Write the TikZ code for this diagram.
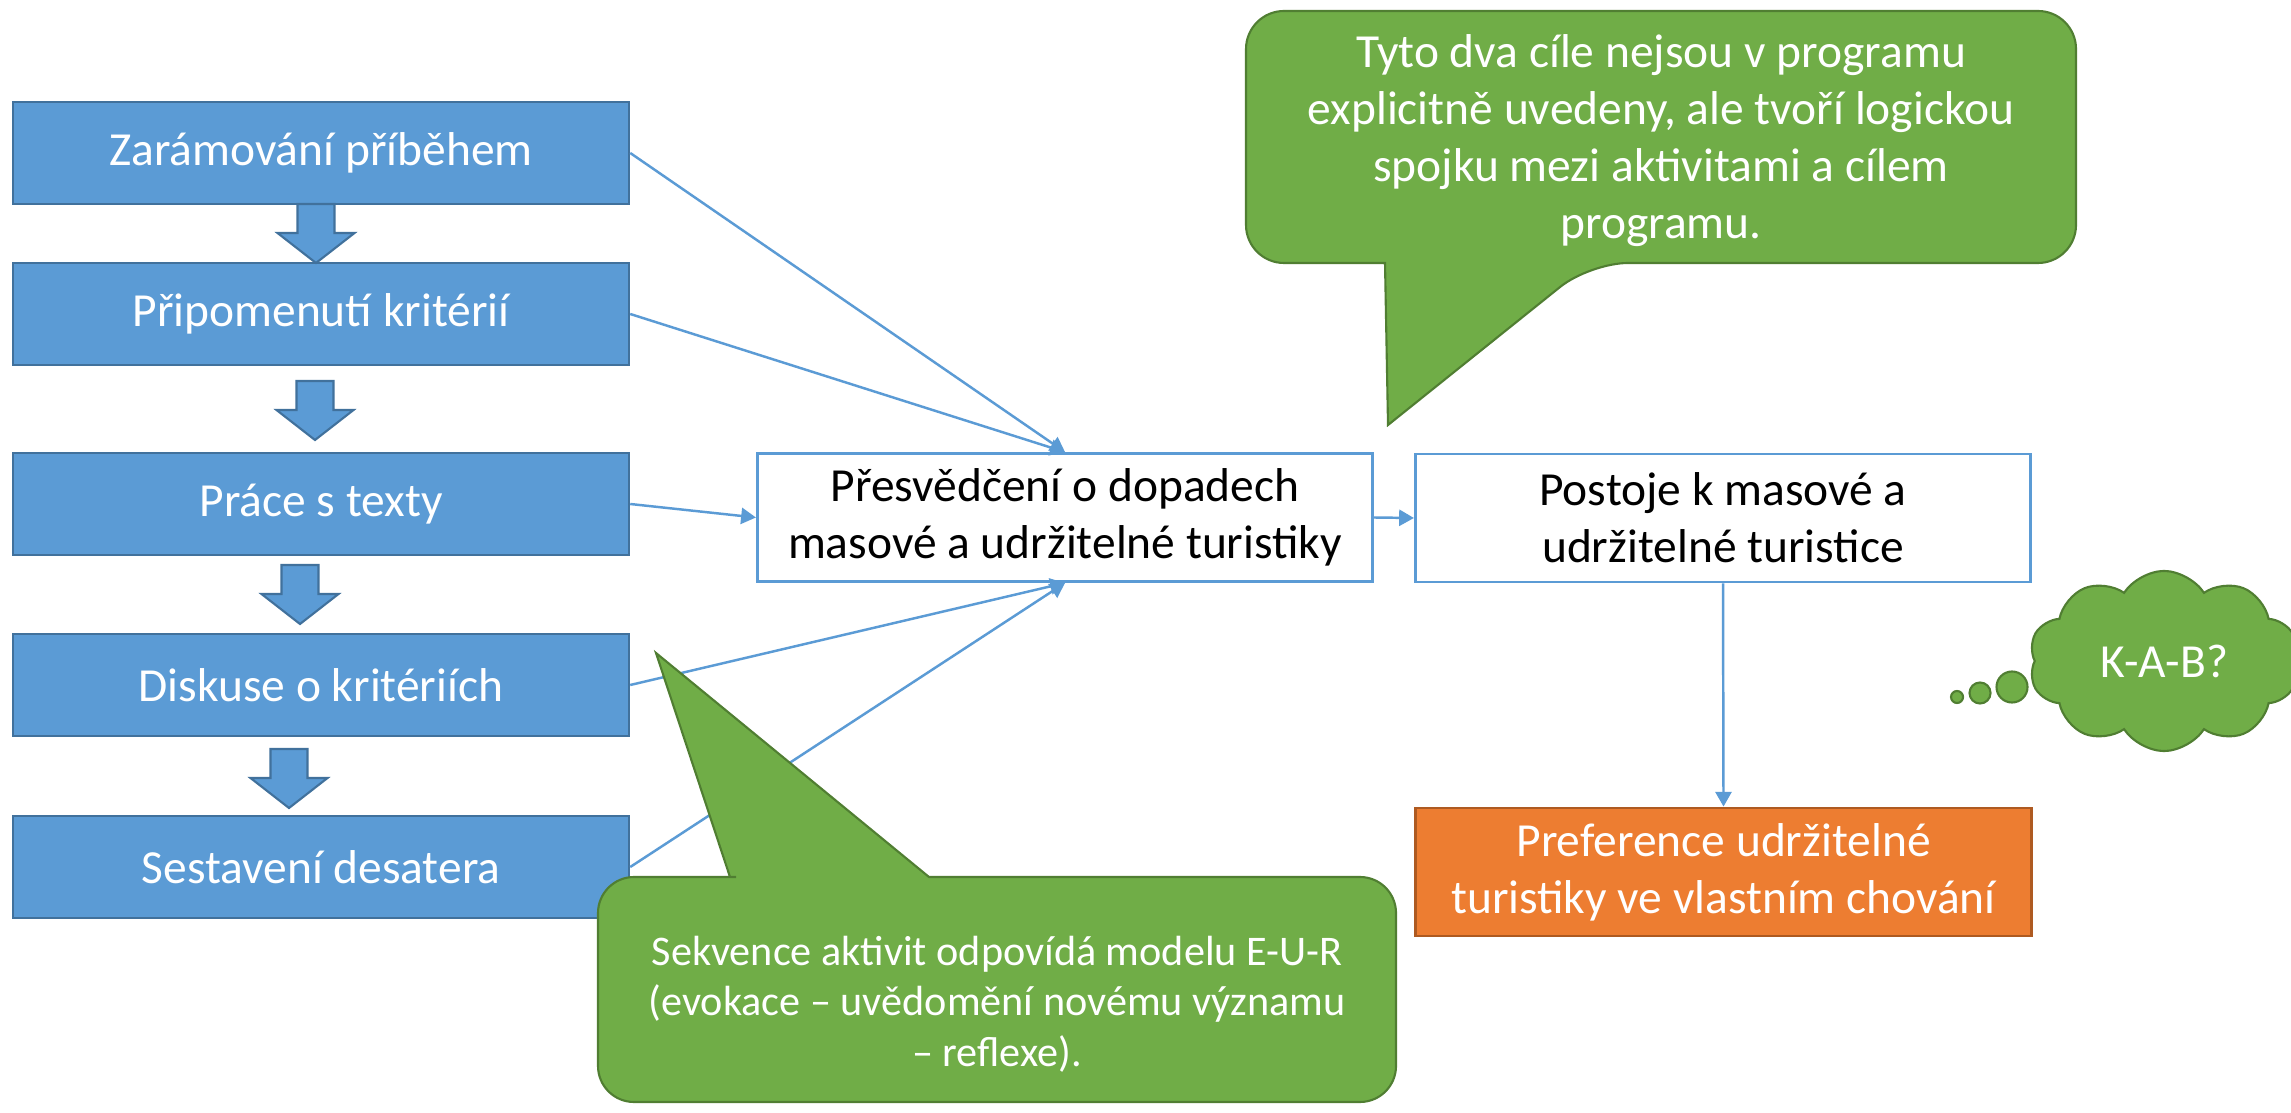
\documentclass[tikz,border=0pt]{standalone}
\usepackage{fontspec}
\setmainfont{Carlito}
\usetikzlibrary{arrows.meta,shapes.symbols}
\definecolor{boxblue}{HTML}{5B9BD5}
\definecolor{boxedge}{HTML}{41719C}
\definecolor{notegreen}{HTML}{70AD47}
\definecolor{noteedge}{HTML}{507E32}
\definecolor{prefor}{HTML}{ED7D31}
\definecolor{prefedge}{HTML}{AE5A21}
\newcommand\txtbig{\fontsize{13.5}{16.2}\selectfont}
\newcommand\txtsmall{\fontsize{12}{14.4}\selectfont}

\begin{document}
\begin{tikzpicture}[x=0.01cm,y=-0.01cm,font=\txtbig]
	\tikzset{
		activity/.style={rectangle,minimum width=6.16cm,minimum height=1.02cm,inner sep=0pt,fill=boxblue,draw=boxedge,line width=0.6pt,text=white},
		aim/.style={rectangle,minimum width=6.15cm,minimum height=1.28cm,inner sep=0pt,draw=boxblue,line width=0.8pt,align=center},
		link/.style={color=boxblue,line width=0.7pt,-{Triangle[length=4.2pt,width=4.6pt]}},
		note/.style={fill=notegreen,draw=noteedge,line width=0.6pt},
		downarrow/.pic={\path[fill=boxblue,draw=boxedge,line width=0.6pt] (-18.5,0) -- (18.5,0) -- (18.5,29) -- (38.5,29) -- (0,59) -- (-38.5,29) -- (-18.5,29) -- cycle;}
	}
	\path[use as bounding box,fill=white] (0,0) rectangle (2291,1113);
	\node[activity] (b1) at (321,153) {Zarámování příběhem};
	\node[activity] (b2) at (321,314) {Připomenutí kritérií};
	\node[activity] (b3) at (321,504) {Práce s texty};
	\node[activity] (b4) at (321,685) {Diskuse o kritériích};
	\node[activity] (b5) at (321,867) {Sestavení desatera};
	\pic at (316,204) {downarrow};
	\pic at (315,381) {downarrow};
	\pic at (300,565) {downarrow};
	\pic at (289,749) {downarrow};
	\node[aim] (mid) at (1065,517.5) {Přesvědčení o dopadech\\masové a udržitelné turistiky};
	\node[aim] (goal) at (1723,518) {Postoje k masové a\\udržitelné turistice};
	\node[aim,fill=prefor,draw=prefedge,text=white] (pref) at (1723.5,872) {Preference udržitelné\\turistiky ve vlastním chování};
	\path[link]
		(b1.east) edge (mid.north)
		(b2.east) edge (mid.north)
		(b3.east) edge (mid.west)
		(b4.east) edge (mid.south)
		(b5.east) edge (mid.south)
		(mid.east) edge (goal.west)
		(goal.south) edge (pref.north);
	\draw[note] (1246,137) [rounded corners=3.8mm] |- (2076,11) |- (1590,263) [sharp corners] -- (1388,425) -- (1385,263) -- (1300,263) [rounded corners=3.8mm] -| (1246,137) -- cycle;
	\node[text=white,align=center] (note1) at (1661,141) {Tyto dva cíle nejsou v programu\\explicitně uvedeny, ale tvoří logickou\\spojku mezi aktivitami a cílem\\programu.};
	\draw[note] (598,990) [rounded corners=3.6mm] |- (700,877) [sharp corners] -- (730,877) -- (656,653) -- (929,877) -- (1000,877) [rounded corners=3.6mm] -| (1396,990) |- (700,1102) -| (598,990) -- cycle;
	\node[text=white,align=center,font=\txtsmall] (note2) at (997,1004) {Sekvence aktivit odpovídá modelu E-U-R\\(evokace – uvědomění novému významu\\– reflexe).};
	\node[note,cloud,cloud puffs=10,cloud puff arc=115,aspect=1.5,minimum width=2.7cm,minimum height=1.8cm,inner sep=0pt,text=white] (kab) at (2164,661) {K-A-B?};
	\node[note,circle,minimum size=0.31cm,inner sep=0pt] (th3) at (2012,687) {};
	\node[note,circle,minimum size=0.21cm,inner sep=0pt] (th2) at (1980,693) {};
	\node[note,circle,minimum size=0.12cm,inner sep=0pt] (th1) at (1957,697) {};
\end{tikzpicture}
\end{document}
